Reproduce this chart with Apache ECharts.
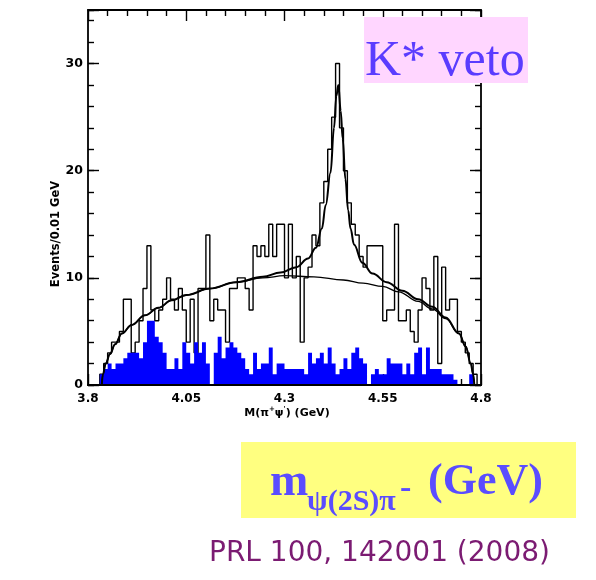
<!DOCTYPE html>
<html>
<head>
<meta charset="utf-8">
<script src="https://cdn.jsdelivr.net/npm/echarts@6.0.0/dist/echarts.min.js"></script>
<style>
html,body{margin:0;padding:0;background:#ffffff;}
#chart{width:596px;height:580px;}
</style>
</head>
<body>
<div id="chart"></div>
<script>
// ---------------- data ----------------
const binStart = 3.8;
const binWidth = 0.01;
// black histogram: events per 0.01 GeV bin, 3.80 ... 4.80
const dataCounts = [
  0,0,0,1,2,3,4,4,5,8,
  8,3,4,6,9,13,7,6,7,8,
  10,8,7,9,7,4,8,3,9,9,
  14,6,8,7,7,4,9,9,10,10,
  9,7,13,12,13,12,15,12,15,15,
  10,15,10,12,4,10,11,14,13,17,
  19,22,25,30,24,20,17,15,14,12,
  11,13,13,13,13,6,7,7,15,6,
  6,7,5,4,7,10,9,7,12,2,
  11,7,8,8,5,4,3,2,1,0
];
// blue filled histogram (sideband background)
const bkgCounts = [
  0,0,0,1,1.5,2,1.5,2,2,2.5,
  3,3,3,2.5,4,6,6,4.5,4,3,
  1.5,1.5,2.5,1.5,4,3,2,4,3,4,
  2,0,3,4.5,2.5,3.5,4,3.5,3,2.5,
  1.5,1,3,1.5,2,2,3.5,1,2,2,
  1.5,1.5,1.5,1.5,1.5,1,3,2,2.5,3,
  2,3.5,2,1,1.5,2.5,1.5,3,3.5,2.5,
  2,0,1,1.5,1,1,2.5,2,2,2,
  1,2,1,3,3.5,1,3.5,1.5,1.5,1.5,
  1,1,1,0.5,0,0,0,1,0,0
];
// fitted background curve (x GeV, events)
const bgCurve = [
  [3.835,0],[3.838,1.0],[3.845,2.0],[3.856,2.9],[3.869,3.8],[3.886,4.8],
  [3.911,5.6],[3.945,6.5],[3.979,7.2],[4.013,7.9],[4.05,8.4],[4.11,9.0],
  [4.177,9.6],[4.245,10.0],[4.30,10.2],[4.375,10.1],[4.45,9.8],[4.50,9.5],
  [4.55,9.2],[4.59,8.7],[4.64,7.8],[4.676,7.1],[4.71,6.2],[4.744,4.8],
  [4.761,3.6],[4.774,2.0],[4.780,1.0],[4.783,0]
];
// fitted signal + background curve
const totalCurve = [
  [3.835,0],[3.838,1.0],[3.845,2.0],[3.856,2.9],[3.869,3.8],[3.886,4.8],
  [3.911,5.6],[3.945,6.5],[3.979,7.2],[4.013,7.9],[4.05,8.4],[4.11,9.0],
  [4.177,9.6],[4.245,10.1],[4.29,10.5],[4.33,11.0],[4.36,11.8],[4.38,12.8],
  [4.395,14.6],[4.405,16.8],[4.417,19.8],[4.426,24.0],[4.432,27.0],[4.437,28.0],
  [4.443,25.6],[4.448,23.0],[4.455,19.2],[4.462,16.3],[4.468,14.6],[4.477,13.1],
  [4.498,11.4],[4.524,10.4],[4.56,9.6],[4.60,8.8],[4.64,8.0],[4.676,7.3],
  [4.71,6.3],[4.744,4.8],[4.761,3.6],[4.774,2.0],[4.780,1.0],[4.783,0]
];
const xTickLabels = ['3.8','4.05','4.3','4.55','4.8'];
const yTickLabels = ['0','10','20','30'];

// ---------------- helpers ----------------
function stepPoints(vals){
  const pts = vals.map((v,i)=>[+(binStart + i*binWidth).toFixed(2), v]);
  pts.push([+(binStart + vals.length*binWidth).toFixed(2), vals[vals.length-1]]);
  return pts;
}
const labelFont = '"DejaVu Sans", sans-serif';
const black = '#000000';
const lineW = 1.8;
const tickStyle = {color: black, width: 1.4};

function xAx(pos, opts){
  return Object.assign({
    type:'value', position: pos, min: 3.8, max: 4.8, interval: 0.25,
    axisLine:{show:true, onZero:false, lineStyle:{color:black, width:lineW}},
    axisTick:{show:true, inside:true, length:11, lineStyle:tickStyle},
    minorTick:{show:true, splitNumber:5, length:6, lineStyle:tickStyle},
    splitLine:{show:false}, minorSplitLine:{show:false},
    axisLabel:{show:false}
  }, opts||{});
}
function yAx(pos, interval, len, opts){
  return Object.assign({
    type:'value', position: pos, min: 0, max: 35, interval: interval,
    axisLine:{show:true, onZero:false, lineStyle:{color:black, width:lineW}},
    axisTick:{show:true, inside:true, length:len, lineStyle:tickStyle},
    minorTick:{show:false},
    splitLine:{show:false}, minorSplitLine:{show:false},
    axisLabel:{show:false}
  }, opts||{});
}

const chart = echarts.init(document.getElementById('chart'), null, {renderer:'canvas'});
chart.setOption({
  animation:false,
  backgroundColor:'#ffffff',
  grid:{left:88, top:10, width:393, height:375, containLabel:false, outerBoundsMode:'none'},
  xAxis:[
    xAx('bottom', {
      axisLabel:{show:true, margin:8, color:black, fontFamily:labelFont, fontWeight:'bold', fontSize:12,
        formatter:(v)=>{ const s=(+v.toFixed(2)).toString(); return xTickLabels.includes(s)?s:''; }}
    }),
    xAx('top'),
    xAx('bottom', {axisTick:{show:false}, minorTick:{show:false}, z:10})
  ],
  yAxis:[
    yAx('left', 10, 11, {
      axisLabel:{show:true, margin:5, color:black, fontFamily:labelFont, fontWeight:'bold', fontSize:12.5,
        formatter:(v)=>{ const s=String(v); return yTickLabels.includes(s)?s:''; }}
    }),
    yAx('left', 2, 6, {axisLine:{show:false}}),
    yAx('right', 10, 11),
    yAx('right', 2, 6, {axisLine:{show:false}})
  ],
  series:[
    {
      type:'line', name:'data', xAxisIndex:0, yAxisIndex:0, step:'end',
      data: stepPoints(dataCounts), symbol:'none', z:2,
      lineStyle:{color:black, width:1.4}
    },
    {
      type:'line', name:'sideband', xAxisIndex:0, yAxisIndex:0, step:'end',
      data: stepPoints(bkgCounts), symbol:'none', z:3,
      lineStyle:{width:0, opacity:0},
      areaStyle:{color:'#0000ff', opacity:1}
    },
    {
      type:'line', name:'bg fit', xAxisIndex:0, yAxisIndex:0,
      data: bgCurve, symbol:'none', smooth:0.4, smoothMonotone:'x', z:4,
      lineStyle:{color:black, width:1.3}
    },
    {
      type:'line', name:'total fit', xAxisIndex:0, yAxisIndex:0,
      data: totalCurve, symbol:'none', smooth:0.4, smoothMonotone:'x', z:5,
      lineStyle:{color:black, width:2}
    }
  ],
  graphic:[
    // y axis title
    {type:'text', x:56, y:234, rotation:Math.PI/2, z:20,
      style:{text:'Events/0.01 GeV', fill:black, font:'bold 11.5px "DejaVu Sans"', align:'center', verticalAlign:'middle'}},
    // x axis title
    {type:'text', x:287, y:413, z:20,
      style:{text:'{a|M(π}{s|+}{a|ψ}{s|\'}{a|) (GeV)}', align:'center', verticalAlign:'middle',
        rich:{
          a:{fill:black, fontSize:11, fontWeight:'bold', fontFamily:'DejaVu Sans', lineHeight:14},
          s:{fill:black, fontSize:7, fontWeight:'bold', fontFamily:'DejaVu Sans', verticalAlign:'top', lineHeight:14}
        }}},
    // pink label
    {type:'rect', shape:{x:364, y:17, width:164, height:66}, style:{fill:'#ffd6ff'}, z:20},
    {type:'text', x:365, y:62, z:21,
      style:{text:'K* veto', fill:'#5a3cff', font:'50px "Liberation Serif"', align:'left', verticalAlign:'middle'}},
    // yellow label
    {type:'rect', shape:{x:241, y:442, width:335, height:76}, style:{fill:'#ffff80'}, z:20},
    {type:'text', x:270, y:483, z:21,
      style:{text:'m', fill:'#5a4cff', font:'bold 46px "Liberation Serif"', align:'left', verticalAlign:'middle'}},
    {type:'text', x:307, y:502, z:21,
      style:{text:'ψ(2S)π', fill:'#5a4cff', font:'bold 30px "Liberation Serif"', align:'left', verticalAlign:'middle'}},
    {type:'text', x:400, y:489, z:21,
      style:{text:'-', fill:'#5a4cff', font:'bold 34px "Liberation Serif"', align:'left', verticalAlign:'middle'}},
    {type:'text', x:428, y:483, z:21,
      style:{text:'(GeV)', fill:'#5a4cff', font:'bold 44px "Liberation Serif"', align:'left', verticalAlign:'middle'}},
    // reference
    {type:'text', x:209, y:554, z:21,
      style:{text:'PRL 100, 142001 (2008)', fill:'#7b1b72', font:'28px "DejaVu Sans"', align:'left', verticalAlign:'middle'}}
  ]
});
</script>
</body>
</html>
